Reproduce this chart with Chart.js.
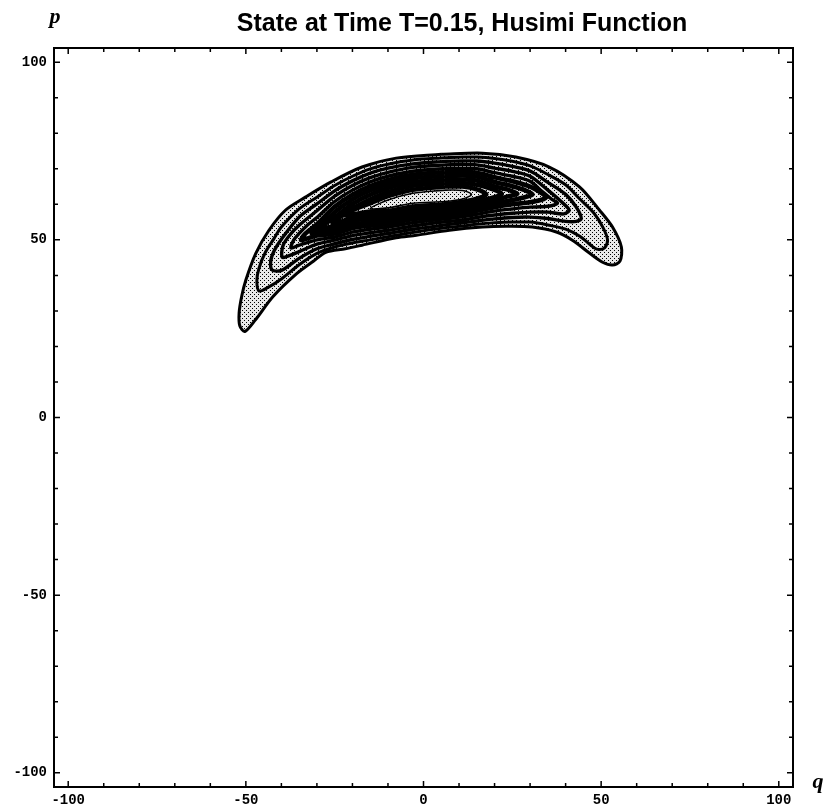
<!DOCTYPE html>
<html>
<head>
<meta charset="utf-8">
<script src="https://cdn.jsdelivr.net/npm/chart.js@4.4.1/dist/chart.umd.min.js"></script>
<style>
  html, body { margin: 0; padding: 0; background: #fff; }
  #wrap { width: 829px; height: 807px; }
</style>
</head>
<body>
<div id="wrap"><canvas id="husimi" width="829" height="807"></canvas></div>
<script>
const titleText = "State at Time T=0.15, Husimi Function";
const xLabel = "q";
const yLabel = "p";
const axisMin = -104;
const axisMax = 104;
const tickValues = [-100, -90, -80, -70, -60, -50, -40, -30, -20, -10, 0, 10, 20, 30, 40, 50, 60, 70, 80, 90, 100];
const majorTicks = [-100, -50, 0, 50, 100];

// contour lines, outermost first, as [q, p]
const level1 = [[5,74.1],[16.6,74.4],[26,73.3],[35.4,70.5],[43.9,64.9],[49.5,58.4],[53.2,53.6],[55.7,48],[55.3,44],[53.2,42.9],[50.4,43.7],[46.7,46.3],[41.9,49.9],[37.4,52.2],[30.6,53.6],[23.3,53.8],[16.6,53.6],[7.3,52.7],[-2,51.3],[-7.7,50.6],[-17.3,48.5],[-22,47.5],[-27.5,46.5],[-31,44],[-35.7,40.5],[-42.4,34],[-47.3,27.5],[-50.3,24.2],[-51.7,25.8],[-51.9,29.4],[-51.2,34],[-50,38.7],[-47.2,46.2],[-43.5,52.7],[-38.8,58.4],[-33.1,62.1],[-26,66.3],[-17.3,70.5],[-7.7,73],[5,74.1]];
const level2 = [[6,73.1],[11,73.3],[15,73.3],[20,72.9],[25,72.1],[30,70.8],[35,68.4],[40,65.5],[44,61.5],[48,57.5],[50.5,53.5],[51.8,50],[51,47.8],[49.5,47.3],[48,47.8],[44,51],[40,53],[35,54.2],[30,55],[25,55],[20,54.8],[15,54.4],[11,53.9],[6,53.4],[-3,52.1],[-10,50.9],[-15,50],[-20,49.1],[-25,48],[-30,46.2],[-35,43],[-40,39],[-44,36.5],[-46.3,35.6],[-46.9,38.5],[-46.3,42],[-44.5,46.5],[-42,50.5],[-40,53.6],[-35,58.7],[-30,62],[-25,65.3],[-20,67.9],[-15,70],[-10,71.3],[-3,72.5],[6,73.1]];
const level3 = [[6,72.1],[11,72.2],[15,72.2],[20,71.6],[25,70.7],[30,69.4],[35,66.2],[40,62.8],[43,59.2],[44.4,56],[43,55.2],[40,55.2],[35,56],[30,56.4],[25,56.3],[20,55.9],[15,55.3],[11,54.8],[6,54.2],[-3,53],[-10,51.8],[-15,51],[-20,50.1],[-25,48.9],[-30,47.5],[-35,44.8],[-40,41.4],[-42.6,41.5],[-43,44],[-42,47],[-40,50.2],[-35,56.4],[-30,60.1],[-25,63.8],[-20,66.6],[-15,68.8],[-10,70.2],[-3,71.4],[6,72.1]];
const level4 = [[6,71.1],[11,71.2],[15,71.1],[20,70.2],[25,69.3],[30,67.9],[35,64],[38.5,61],[41,58.4],[39.5,57.3],[35,57.8],[30,57.8],[25,57.5],[20,57],[15,56.3],[11,55.6],[6,55.1],[-3,53.9],[-10,52.7],[-15,52],[-20,51.2],[-25,49.9],[-30,48.8],[-35,46.7],[-38,45.5],[-39.8,45.1],[-39.5,48.5],[-37.5,51.5],[-35,54.1],[-30,58.2],[-25,62.3],[-20,65.3],[-15,67.5],[-10,69],[-3,70.4],[6,71.1]];
const level5 = [[6,70.1],[11,70.1],[15,70],[20,68.9],[25,67.9],[30,66.5],[33.5,63.5],[36,61.5],[37.7,60.3],[36,59.6],[33,59.3],[30,59.2],[25,58.7],[20,58.1],[15,57.2],[11,56.5],[6,55.9],[-3,54.8],[-10,53.6],[-15,53],[-20,52.2],[-25,50.8],[-30,50],[-35,48.5],[-37.3,47.7],[-36.5,50],[-35,51.8],[-32.5,54.3],[-30,56.3],[-25,60.8],[-20,64],[-15,66.3],[-10,67.9],[-3,69.3],[6,70.1]];
const level6 = [[6,69.1],[11,69.1],[15,68.9],[20,67.6],[25,66.5],[30,65],[33,63.3],[34.5,62],[33,61.2],[30,60.6],[25,60],[20,59.2],[15,58.2],[11,57.3],[6,56.7],[-3,55.8],[-10,54.5],[-15,54],[-20,53.3],[-25,51.8],[-30,51.2],[-33,50.3],[-34.5,49.9],[-33.5,51.5],[-30,54.4],[-25,59.3],[-20,62.7],[-15,65.1],[-10,66.8],[-3,68.3],[6,69.1]];
const level7 = [[6,68],[11,68.1],[15,67.8],[20,66.3],[25,65.1],[28.5,64],[30.7,62.8],[28.5,62],[25,61.2],[20,60.2],[15,59.1],[11,58.1],[6,57.5],[-3,56.7],[-10,55.4],[-15,55],[-20,54.3],[-25,52.8],[-29,52.2],[-31.5,51.9],[-30,53],[-25,57.8],[-20,61.4],[-15,63.9],[-10,65.7],[-3,67.3],[6,68]];
const level8 = [[6,67],[11,67],[15,66.7],[20,65],[23.5,64.2],[26.4,63],[24,62.3],[20,61.1],[15,60],[11,59],[6,58.3],[-3,57.6],[-10,56.3],[-15,56],[-20,55.4],[-25,53.9],[-29,53.3],[-27,55],[-25,56.3],[-20,60.1],[-15,62.7],[-10,64.6],[-3,66.2],[6,67]];
const level9 = [[6,66],[11,66],[15,65.5],[18.5,64.6],[22,63],[20,62],[15,60.8],[11,59.8],[6,59.2],[-3,58.5],[-10,57.2],[-15,57],[-20,56.4],[-23,55.2],[-25.6,54.6],[-23,56.8],[-20,58.8],[-15,61.4],[-10,63.4],[-3,65.2],[6,66]];
const level10 = [[6,65],[11,65],[15,64.2],[17.7,62.8],[15,61.6],[11,60.7],[6,60],[-3,59.4],[-10,58.1],[-15,58],[-20,57.1],[-22.8,57],[-20,58.4],[-15,60.3],[-10,62.3],[-3,64.1],[6,65]];
const level11 = [[6,64],[11,63.9],[13.5,62.8],[11,61.5],[6,60.8],[-3,60.3],[-10,59],[-15,58.8],[-10,61.2],[-3,63.1],[6,64]];

const levels = [level1, level2, level3, level4, level5, level6, level7, level8, level9, level10, level11];

// halftone dots used by the original for the shaded region
const dots = document.createElement("canvas");
dots.width = 4;
dots.height = 4;
const dctx = dots.getContext("2d");
dctx.fillStyle = "#e8e8e8";
dctx.fillRect(0, 0, 4, 4);
dctx.fillStyle = "#000";
dctx.fillRect(0, 0, 1, 1);
dctx.fillRect(2, 2, 1, 1);

const husimiPlugin = {
  id: "husimi",
  beforeDatasetsDraw(chart) {
    const line = chart.getDatasetMeta(0).dataset;
    const ctx = chart.ctx;
    line.updateControlPoints(chart.chartArea, "x");
    ctx.save();
    ctx.beginPath();
    line.path(ctx);
    ctx.closePath();
    ctx.fillStyle = ctx.createPattern(dots, "repeat");
    ctx.fill();
    ctx.restore();
  },
  afterDraw(chart) {
    const { ctx, chartArea: a, scales } = chart;
    ctx.save();
    ctx.strokeStyle = "#000";
    ctx.lineWidth = 2;
    ctx.strokeRect(a.left, a.top, a.right - a.left, a.bottom - a.top);

    ctx.lineWidth = 1.5;
    ctx.beginPath();
    scales.x.ticks.forEach((t) => {
      const len = majorTicks.includes(t.value) ? 6 : 4;
      const px = scales.x.getPixelForValue(t.value);
      ctx.moveTo(px, a.bottom);
      ctx.lineTo(px, a.bottom - len);
      ctx.moveTo(px, a.top);
      ctx.lineTo(px, a.top + len);
    });
    scales.y.ticks.forEach((t) => {
      const len = majorTicks.includes(t.value) ? 6 : 4;
      const py = scales.y.getPixelForValue(t.value);
      ctx.moveTo(a.left, py);
      ctx.lineTo(a.left + len, py);
      ctx.moveTo(a.right, py);
      ctx.lineTo(a.right - len, py);
    });
    ctx.stroke();

    ctx.fillStyle = "#000";
    ctx.textAlign = "center";
    ctx.textBaseline = "alphabetic";
    ctx.font = "bold 25px 'Liberation Sans', Arial, sans-serif";
    ctx.fillText(titleText, 462, 31);
    ctx.font = "italic bold 22px 'Liberation Serif', serif";
    ctx.fillText(yLabel, 55, 23);
    ctx.fillText(xLabel, 818, 788);
    ctx.restore();
  }
};

const tickFont = { family: "'Liberation Mono', 'DejaVu Sans Mono', monospace", size: 14, weight: "bold" };
const useTickValues = (s) => { s.ticks = tickValues.map((v) => ({ value: v })); };
const tickLabel = (v) => (majorTicks.includes(v) ? String(v) : "");

// outer lines stay readable, the packed inner ones merge into black
const widthFor = (i) => (i <= 1 ? 3 : i <= 4 ? 3.4 : i <= 9 ? 4.6 : 1.6);

new Chart(document.getElementById("husimi"), {
  type: "line",
  data: {
    datasets: levels.map((lv, i) => ({
      data: lv.map(([q, p]) => ({ x: q, y: p })),
      borderColor: "#000",
      borderWidth: widthFor(i),
      pointRadius: 0,
      tension: 0.3,
      fill: false
    }))
  },
  options: {
    responsive: false,
    animation: false,
    devicePixelRatio: 1,
    events: [],
    layout: { padding: { top: 48, right: 36, left: 0, bottom: 0 } },
    plugins: { legend: { display: false }, tooltip: { enabled: false } },
    scales: {
      x: {
        type: "linear",
        min: axisMin,
        max: axisMax,
        afterBuildTicks: useTickValues,
        afterFit: (s) => { s.height = 20; },
        grid: { display: false, drawTicks: false },
        border: { display: false },
        ticks: { autoSkip: false, maxRotation: 0, padding: 5, color: "#000", font: tickFont, callback: tickLabel }
      },
      y: {
        type: "linear",
        min: axisMin,
        max: axisMax,
        afterBuildTicks: useTickValues,
        afterFit: (s) => { s.width = 54; },
        grid: { display: false, drawTicks: false },
        border: { display: false },
        ticks: { autoSkip: false, padding: 7, color: "#000", font: tickFont, callback: tickLabel }
      }
    }
  },
  plugins: [husimiPlugin]
});
</script>
</body>
</html>
